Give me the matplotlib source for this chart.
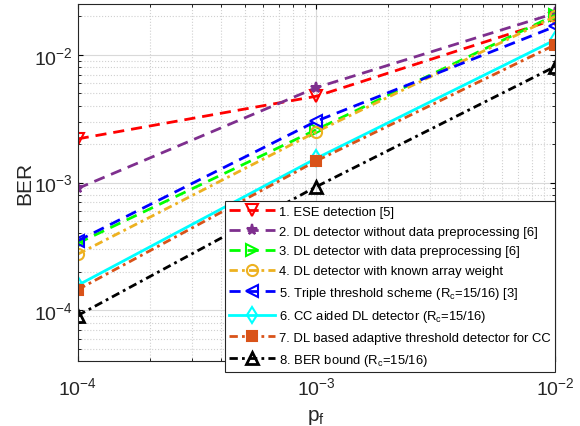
import matplotlib
matplotlib.use('Agg')
import matplotlib.pyplot as plt

plt.rcParams['font.family'] = 'Liberation Sans'
plt.rcParams['mathtext.fontset'] = 'custom'
plt.rcParams['mathtext.rm'] = 'Liberation Sans'
plt.rcParams['mathtext.it'] = 'Liberation Sans'

# dados
pf = [1e-4, 1e-3, 1e-2]
ber_ese = [2.2e-3, 4.75e-3, 1.9e-2]
ber_dl_noprep = [9.0e-4, 5.55e-3, 2.12e-2]
ber_dl_prep = [3.35e-4, 2.6e-3, 2.05e-2]
ber_dl_known = [2.75e-4, 2.5e-3, 2.0e-2]
ber_triple = [3.5e-4, 3.03e-3, 1.67e-2]
ber_cc = [1.57e-4, 1.55e-3, 1.31e-2]
ber_adapt = [1.45e-4, 1.48e-3, 1.2e-2]
ber_bound = [9.1e-5, 9.3e-4, 8.1e-3]

labels = ['1. ESE detection [5]',
          '2. DL detector without data preprocessing [6]',
          '3. DL detector with data preprocessing [6]',
          '4. DL detector with known array weight',
          r'5. Triple threshold scheme (R$_\mathrm{c}$=15/16) [3]',
          r'6. CC aided DL detector (R$_\mathrm{c}$=15/16)',
          '7. DL based adaptive threshold detector for CC',
          r'8. BER bound (R$_\mathrm{c}$=15/16)']

tracejado = (4, 2.5)          # padrão de linha tracejada
traco_ponto = (3, 1.5, 1, 1.5)  # padrão traço-ponto

fig = plt.figure(figsize=(5.8, 4.27), dpi=100)
ax = fig.add_axes([0.134, 0.152, 0.823, 0.836])

ax.plot(pf, ber_ese, color='#ff0000', ls='--', lw=2, marker='v', ms=9, mfc='none', mew=1.5, label=labels[0], dashes=tracejado)
ax.plot(pf, ber_dl_noprep, color='#7e2f8e', ls='--', lw=2, marker='*', ms=8, mew=1.5, label=labels[1], dashes=tracejado)
ax.plot(pf, ber_dl_prep, color='#00ff00', ls='--', lw=2, marker='>', ms=9, mfc='none', mew=1.5, label=labels[2], dashes=tracejado)
ax.plot(pf, ber_dl_known, color='#edb120', ls='-.', lw=2, marker='o', ms=8, mfc='none', mew=1.5, label=labels[3], dashes=traco_ponto)
ax.plot(pf, ber_triple, color='#0000ff', ls='--', lw=2, marker='<', ms=9, mfc='none', mew=1.5, label=labels[4], dashes=tracejado)
ax.plot(pf, ber_cc, color='#00ffff', ls='-', lw=2, marker='d', ms=8, mfc='none', mew=1.5, label=labels[5])
ax.plot(pf, ber_adapt, color='#d95319', ls='-.', lw=2, marker='s', ms=7, mfc='#d95319', mew=1.5, label=labels[6], dashes=traco_ponto)
ax.plot(pf, ber_bound, color='k', ls='-.', lw=2, marker='^', ms=9, mfc='none', mew=2, label=labels[7], dashes=traco_ponto)

ax.set_xscale('log')
ax.set_yscale('log')
ax.set_xlim(1e-4, 1e-2)
ax.set_ylim(4e-5, 2.5e-2)
ax.grid(True, which='major', color='#d9d9d9', lw=0.8)
ax.grid(True, which='minor', color='#d0d0d0', ls=':', lw=0.8)
ax.tick_params(which='both', direction='in', top=True, right=True, labelsize=14, labelcolor='#262626')
ax.tick_params(axis='x', which='major', pad=11)
for s in ax.spines.values():
    s.set_color('#262626')
ax.set_xlabel(r'p$_\mathrm{f}$', fontsize=15, color='#262626', labelpad=6)
ax.set_ylabel('BER', fontsize=15, color='#262626', labelpad=0)

leg = ax.legend(loc='lower right', bbox_to_anchor=(1.0, -0.031), fontsize=9.4,
                fancybox=False, framealpha=1, edgecolor='#262626',
                handlelength=3.5, borderpad=0.35, labelspacing=0.58,
                handletextpad=0.3, borderaxespad=0)
leg.get_frame().set_linewidth(0.8)

fig.savefig('out.png', dpi=100)
